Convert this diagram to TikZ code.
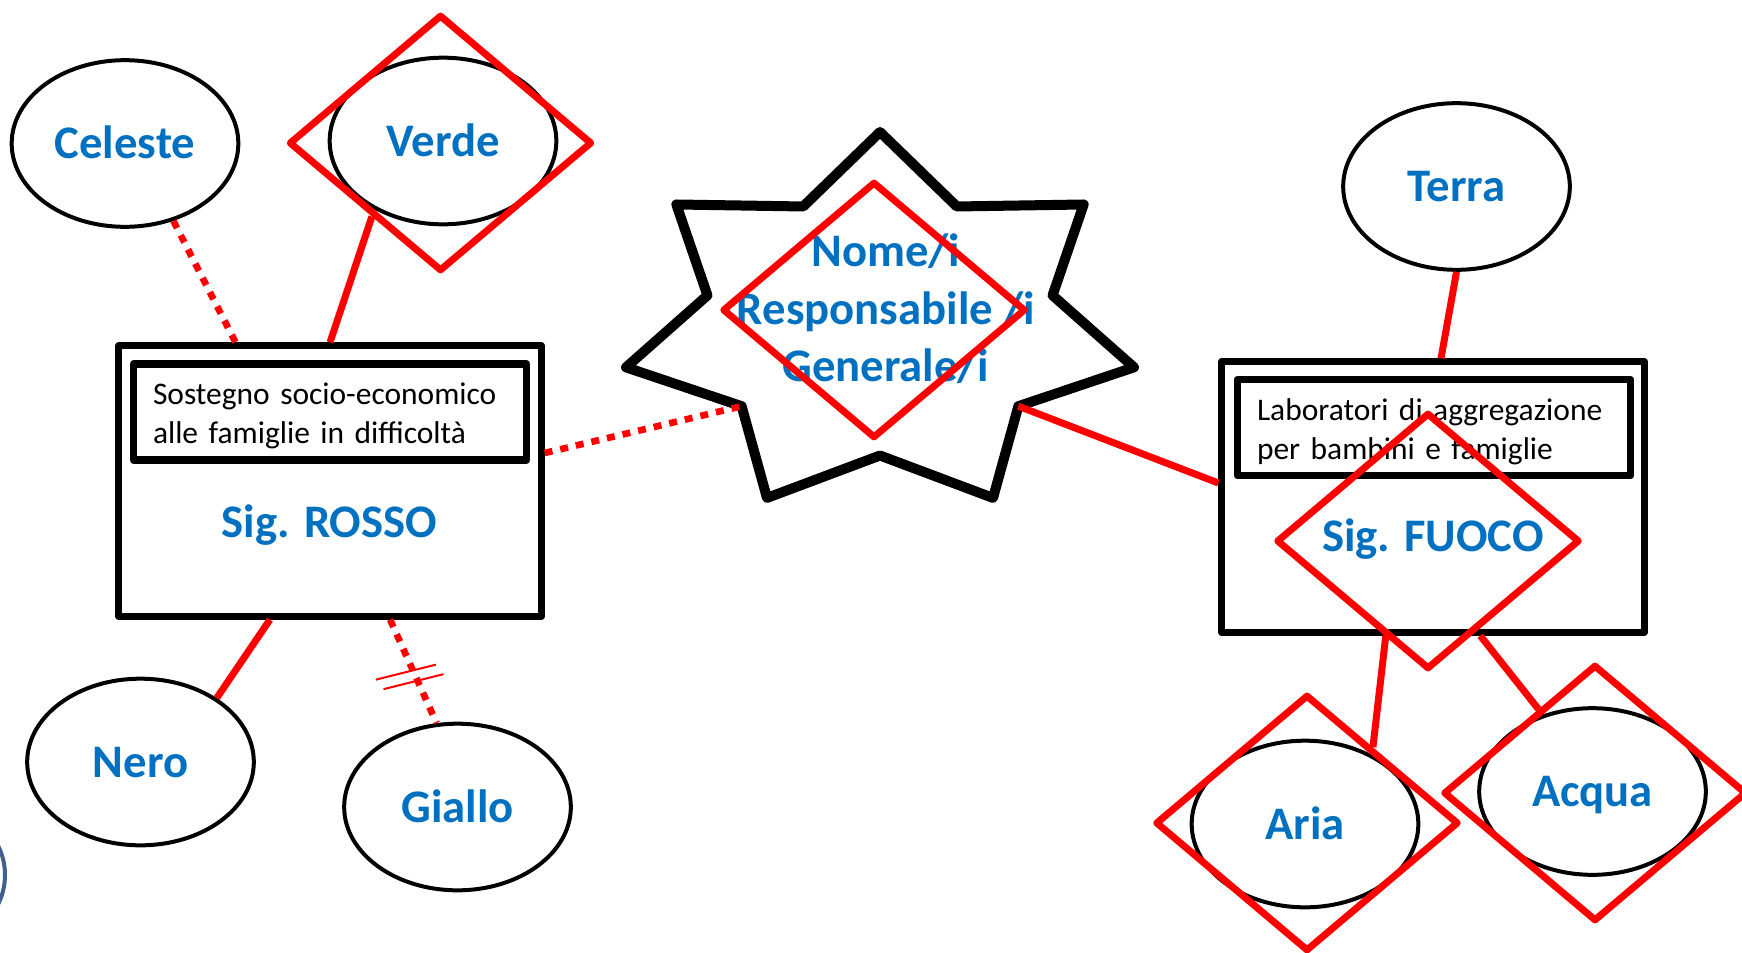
\documentclass[tikz,border=0pt]{standalone}
\usepackage{fontspec}
\setmainfont{Carlito}
\usetikzlibrary{shapes.geometric,calc}
\definecolor{ppblue}{HTML}{0070C0}
\definecolor{ppred}{HTML}{FF0000}
\definecolor{slidering}{HTML}{41608F}

\tikzset{every picture/.style={line width=0.75pt}}
\tikzset{
	attrell/.style={ellipse,draw=black,line width=3pt,fill=white,minimum width=170pt,minimum height=125pt,inner sep=0pt,text=ppblue,font=\fontsize{35}{43}\selectfont\bfseries,text height=22.5pt,text depth=0pt},
	redrhombus/.style={diamond,draw=ppred,line width=5.25pt,line join=round,minimum width=227.5pt,minimum height=192.5pt,inner sep=0pt},
	entitybox/.style={rectangle,draw=black,line width=5pt,line join=round,fill=white,minimum width=317pt,minimum height=203pt,inner sep=0pt},
	taskbox/.style={rectangle,draw=black,line width=5.5pt,line join=round,minimum width=295pt,minimum height=72pt,inner xsep=14.6pt,inner ysep=0pt,text width=265.5pt,align=left,font=\fontsize{23.6}{29}\selectfont,execute at begin node={\rule{0pt}{22.5pt}}},
	bluename/.style={text=ppblue,font=\fontsize{35}{43}\selectfont\bfseries,inner sep=0pt},
	solidlink/.style={draw=ppred,line width=5.25pt},
	dotlink/.style={draw=ppred,line width=5pt,dash pattern=on 6pt off 6pt},
	ticklink/.style={draw=ppred,line width=1.5pt},
	starline/.style={draw=black,line width=7.5pt,line join=round,fill=white},
}

\begin{document}
\begin{tikzpicture}[x=0.75pt,y=0.75pt,yscale=-1,xscale=1]
	\useasboundingbox (0,0) rectangle (1742,953);
	
	%Shape: Circle (cut by the left edge)
	\draw [draw=slidering,line width=3pt] (-60,875) circle (65);
	
	%Shape: Ellipse
	\node [attrell] (celeste) at (125,143.5) {Celeste};
	\node [attrell] (verde) at (443,141) {Verde};
	\node [attrell] (nero) at (140.5,762) {Nero};
	\node [attrell] (giallo) at (457.5,807) {Giallo};
	\node [attrell] (terra) at (1456.5,186.5) {Terra};
	\node [attrell] (aria) at (1305,824) {Aria};
	\node [attrell] (acqua) at (1592.5,791.5) {Acqua};
	
	%Shape: Rectangle
	\node [entitybox] (rosso) at (330,481) {};
	\node [taskbox] (rossotask) at (330,412) {Sostegno socio-economico\\alle famiglie in difficoltà};
	% Text Node
	\node [bluename,anchor=base] (rossoname) at (329.5,537) {Sig. ROSSO};
	
	%Shape: Rectangle
	\node [entitybox] (fuoco) at (1433,497) {};
	\node [taskbox] (fuocotask) at (1434,427.5) {Laboratori di aggregazione\\per bambini e famiglie};
	% Text Node
	\node [bluename,anchor=base] (fuoconame) at (1433,551) {Sig. FUOCO};
	
	%Shape: Star
	\begin{scope}[shift={(880,324.5)}]
		\draw [starline] (-90:260.5 and 192.5) \foreach \k in {1,...,6} { -- ({-90+(2*\k-1)*180/7}:177 and 131) -- ({-90+\k*360/7}:260.5 and 192.5) } -- ({-90+13*180/7}:177 and 131) -- cycle;
		\coordinate (sr) at ({-90+5*180/7}:177 and 131);
		\coordinate (sl) at ({-90+9*180/7}:177 and 131);
	\end{scope}
	% Text Node
	\node [bluename,align=center] (resp) at (886,309) {Nome/i\\Responsabile /i\\Generale/i};
	
	%Shape: Diamond
	\node [redrhombus] (verdemark) at (440.5,143) {};
	\node [redrhombus] (respmark) at (874,310) {};
	\node [redrhombus] (fuocomark) at (1428,541) {};
	\node [redrhombus] (ariamark) at (1307,823) {};
	\node [redrhombus] (acquamark) at (1595,793) {};
	
	%Straight Lines
	\draw [dotlink] (celeste.-58) -- ($(rosso.north west)!0.28!(rosso.north east)$);
	\draw [solidlink] (verdemark.-133) -- (rosso.north);
	\draw [solidlink] ($(rosso.south west)!0.36!(rosso.south east)$) -- (nero.40);
	\draw [dotlink] ($(rosso.south west)!0.64!(rosso.south east)$) coordinate (rg) -- (giallo.104);
	\draw [ticklink] ($(rg)!0.49!(giallo.104)$) +(-37,9.3) -- +(23,-5.7);
	\draw [ticklink] ($(rg)!0.59!(giallo.104)$) +(-34,8.5) -- +(26,-6.5);
	\draw [dotlink] ($(rosso.east)+(0,-28)$) -- (sl);
	\draw [solidlink] (sr) -- ($(fuoco.west)+(0,-14)$);
	\draw [solidlink] (terra.south) -- ($(fuoco.north)+(8,0)$);
	\draw [solidlink] ($(fuoco.south west)!0.39!(fuoco.south east)$) -- (ariamark.49);
	\draw [solidlink] ($(fuoco.south west)!0.61!(fuoco.south east)$) -- (acquamark.124);
	
\end{tikzpicture}
\end{document}
